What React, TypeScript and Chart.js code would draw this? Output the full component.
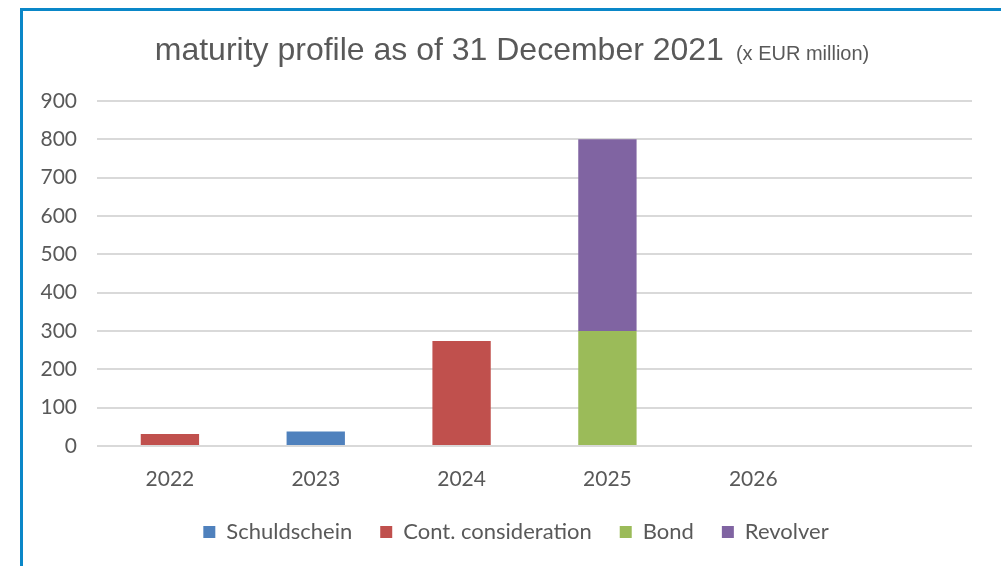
import React, { useEffect, useRef } from "react";
import { Chart, registerables } from "chart.js";

Chart.register(...registerables);

const categories = ["2022", "2023", "2024", "2025", "2026", ""];
const schuldschein = [0, 38, 0, 0, 0, 0];
const contConsideration = [31, 0, 274, 0, 0, 0];
const bond = [0, 0, 0, 300, 0, 0];
const revolver = [0, 0, 0, 500, 0, 0];
const yTicks = [0, 100, 200, 300, 400, 500, 600, 700, 800, 900];

const titleMain = "maturity profile as of 31 December 2021";
const titleUnit = "(x EUR million)";

const textColor = "#595959";
const tickFont = "Lato";

const titlePlugin = {
  id: "twoPartTitle",
  afterDraw(chart: any) {
    const ctx = chart.ctx;
    ctx.save();
    ctx.fillStyle = textColor;
    ctx.textBaseline = "alphabetic";
    ctx.textAlign = "left";
    const f1 = "32px 'Liberation Sans', Arial, sans-serif";
    const f2 = "20px 'Liberation Sans', Arial, sans-serif";
    ctx.font = f1;
    const w1 = ctx.measureText(titleMain).width;
    ctx.font = f2;
    const w2 = ctx.measureText(titleUnit).width;
    const gap = 12;
    const total = w1 + gap + w2;
    const cx = 512;
    const x0 = cx - total / 2;
    const y = 60;
    ctx.font = f1;
    ctx.fillText(titleMain, x0, y);
    ctx.font = f2;
    ctx.fillText(titleUnit, x0 + w1 + gap, y);
    ctx.restore();
  },
};

const legendShiftPlugin = {
  id: "legendShift",
  afterLayout(chart: any) {
    const lg = chart.legend;
    if (lg) {
      lg.left += 20;
      lg.right += 20;
    }
  },
};

export default function App() {
  const ref = useRef<HTMLCanvasElement | null>(null);
  useEffect(() => {
    if (!ref.current) return;
    const chart = new Chart(ref.current, {
      type: "bar",
      data: {
        labels: categories,
        datasets: [
          { label: "Schuldschein", data: schuldschein, backgroundColor: "#4f81bd" },
          { label: "Cont. consideration", data: contConsideration, backgroundColor: "#c0504d" },
          { label: "Bond", data: bond, backgroundColor: "#9bbb59" },
          { label: "Revolver", data: revolver, backgroundColor: "#8064a2" },
        ],
      },
      options: {
        responsive: false,
        animation: false,
        layout: { padding: { left: 20, right: 29, top: 101, bottom: 13 } },
        datasets: { bar: { barPercentage: 0.8, categoryPercentage: 0.5 } },
        plugins: {
          title: { display: false },
          tooltip: { enabled: false },
          legend: {
            position: "bottom",
            labels: {
              boxWidth: 12,
              boxHeight: 12,
              padding: 28,
              color: textColor,
              font: { family: tickFont, size: 22 },
            },
          },
        },
        scales: {
          x: {
            stacked: true,
            grid: { display: false, drawTicks: false },
            border: { display: false },
            ticks: { color: textColor, font: { family: tickFont, size: 21 }, padding: 21 },
            afterFit: (s: any) => {
              s.height = 47;
            },
          },
          y: {
            stacked: true,
            min: 0,
            max: 900,
            afterBuildTicks: (s: any) => {
              s.ticks = yTicks.map((v) => ({ value: v }));
            },
            grid: { color: "#d9d9d9", lineWidth: 2, drawTicks: false },
            border: { display: false },
            ticks: { color: textColor, font: { family: tickFont, size: 21 }, padding: 20 },
            afterFit: (s: any) => {
              s.width = 77;
            },
          },
        },
      },
      plugins: [titlePlugin, legendShiftPlugin],
    });
    return () => chart.destroy();
  }, []);
  return (
    <div style={{ position: "fixed", left: 0, top: 0, width: 1001, height: 566, background: "#fff", overflow: "hidden" }}>
      <div
        style={{
          position: "absolute",
          left: 20,
          top: 8,
          right: 0,
          bottom: 0,
          borderTop: "3px solid #0a87c8",
          borderLeft: "3px solid #0a87c8",
        }}
      />
      <canvas ref={ref} width={1001} height={566} style={{ position: "absolute", left: 0, top: 0 }} />
    </div>
  );
}
